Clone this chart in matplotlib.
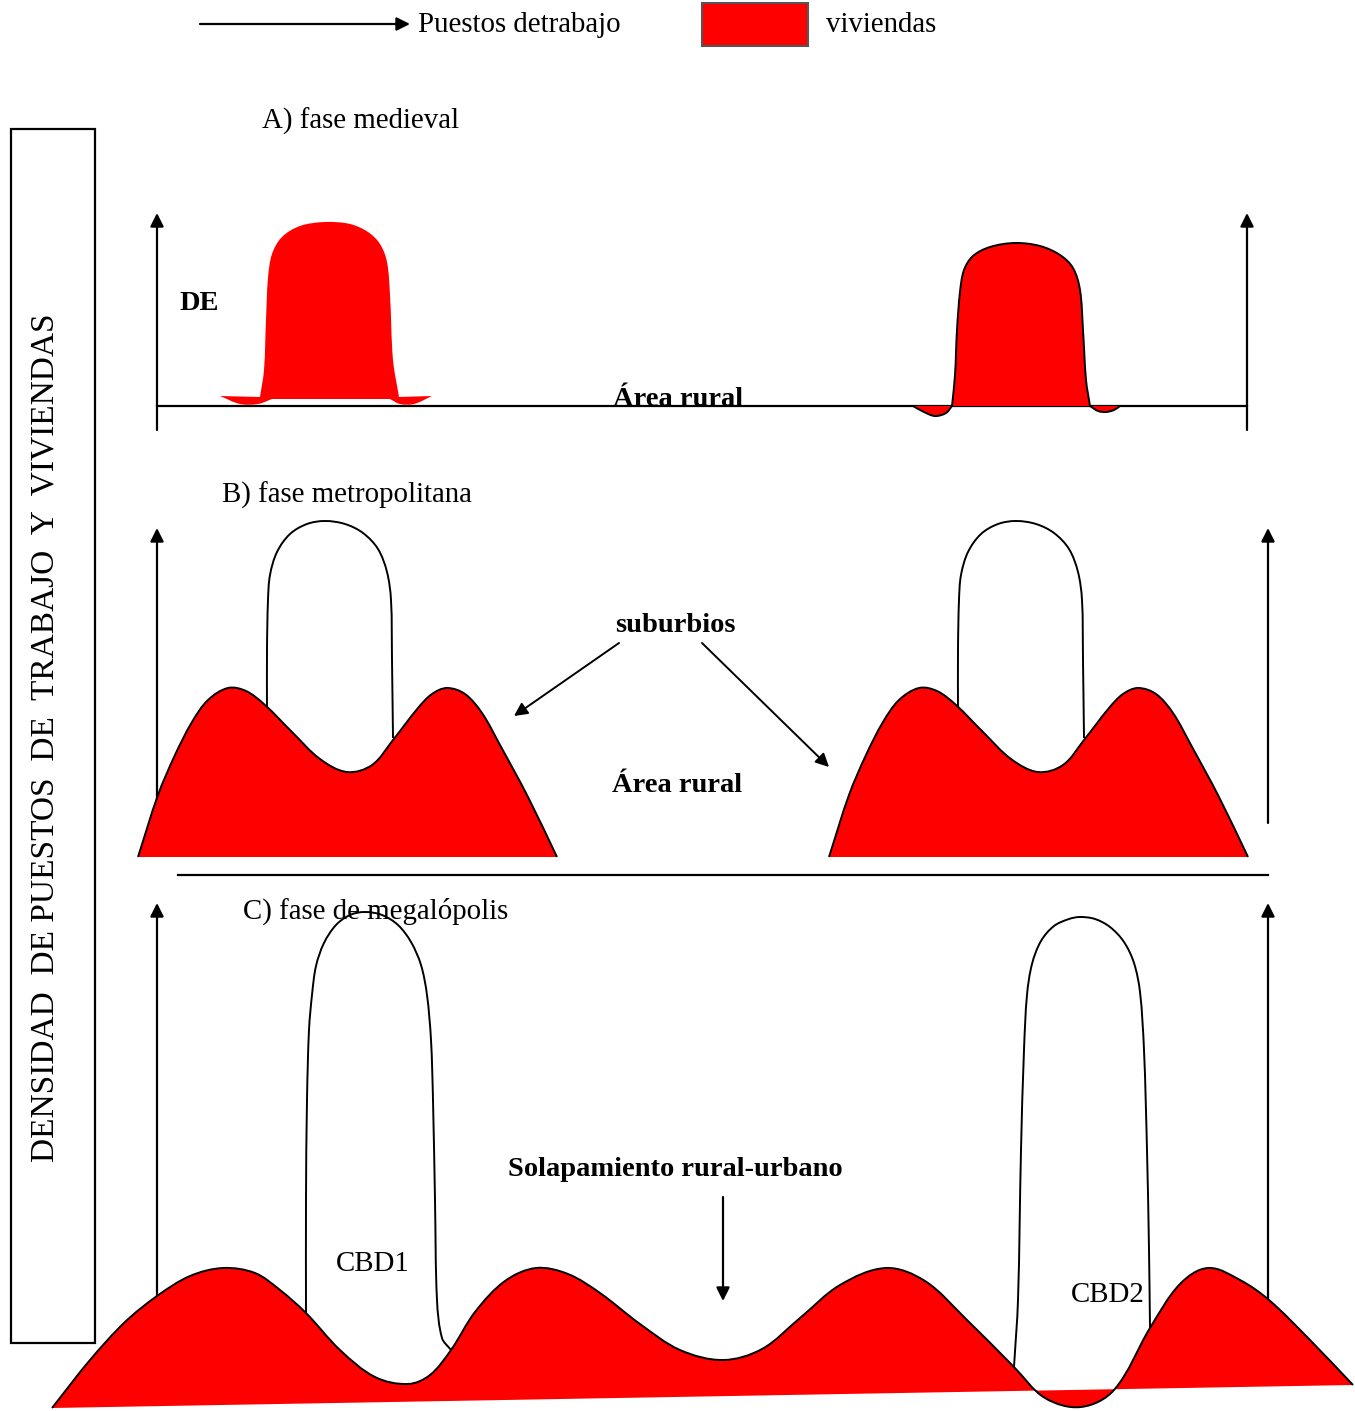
import numpy as np
import matplotlib
matplotlib.use('Agg')
import matplotlib.pyplot as plt
from matplotlib.path import Path
from matplotlib.patches import PathPatch, Rectangle

plt.rcParams['font.family'] = ['Liberation Serif', 'DejaVu Serif']

RED = '#ff0000'

# outline points of each shape (pixel coords, y down)
# A) medieval phase
a_left_body = [(260, 397), (264, 370), (266, 320), (268, 278), (272, 254), (282, 237), (300, 226),
               (325, 222), (350, 224), (368, 232), (380, 244), (387, 262), (390, 295),
               (393, 360), (399, 397)]
a_left_wing_r = [(432, 396), (414, 404), (400, 404), (390, 399)]
a_left_wing_l = [(272, 399), (258, 404), (240, 404), (220, 396)]

a_right_wing_l = [(913, 406), (924, 412), (935, 416), (946, 413), (952, 406)]
a_right_body = [(952, 406), (955, 375), (957, 330), (960, 292), (964, 270), (973, 256), (990, 247),
                (1015, 243), (1040, 246), (1060, 255), (1073, 268), (1080, 290), (1083, 330),
                (1086, 380), (1090, 406)]
a_right_wing_r = [(1090, 406), (1098, 411), (1106, 412), (1114, 410), (1120, 406)]

# B) metropolitan phase: same profile for both cities, shifted
b_profile = [(138, 857), (158, 795), (175, 755), (192, 722), (208, 700), (228, 688), (246, 691),
             (265, 705), (292, 732), (320, 759), (347, 772), (372, 765), (393, 740), (418, 708),
             (432, 694), (447, 688), (465, 694), (482, 713), (500, 745), (528, 797), (557, 857)]
b_cbd = [(267, 712), (267, 650), (268, 600), (270, 575), (277, 552), (290, 534), (307, 524),
         (325, 521), (345, 524), (363, 533), (378, 549), (387, 572), (391, 600), (392, 660),
         (393, 738)]
b_offsets = [0, 691]

# C) megalopolis phase
c_curve = [(52, 1408), (90, 1360), (125, 1322), (157, 1296), (190, 1276), (223, 1268), (255, 1273),
           (280, 1290), (306, 1313), (340, 1350), (375, 1377), (408, 1384), (430, 1375), (451, 1350),
           (475, 1312), (505, 1281), (536, 1268), (568, 1274), (600, 1293), (640, 1324), (680, 1350),
           (723, 1360), (762, 1349), (800, 1318), (840, 1285), (886, 1268), (925, 1281), (965, 1318),
           (1014, 1367), (1045, 1398), (1081, 1407), (1114, 1390), (1150, 1328), (1180, 1284),
           (1208, 1268), (1240, 1280), (1269, 1300), (1310, 1340), (1353, 1385)]
c_cbd1 = [(306, 1313), (306, 1200), (307, 1100), (309, 1030), (312, 995), (316, 966), (324, 943),
          (336, 925), (350, 915), (365, 912), (382, 915), (398, 925), (411, 942), (421, 965),
          (427, 995), (431, 1040), (433, 1100), (435, 1200), (437, 1300), (442, 1338), (451, 1350)]
c_cbd2 = [(1014, 1367), (1018, 1300), (1021, 1150), (1024, 1050), (1027, 995), (1032, 964),
          (1041, 941), (1054, 926), (1069, 919), (1080, 917), (1095, 919), (1110, 927),
          (1124, 942), (1134, 963), (1140, 992), (1144, 1050), (1147, 1150), (1149, 1250),
          (1150, 1328)]


def smooth_segment(pts):
    # cubic pieces through the points, tangents scaled by the chord length
    pts = np.asarray(pts, float)
    n = len(pts)
    verts, codes = [], []
    for i in range(n - 1):
        p0 = pts[max(i - 1, 0)]
        p1 = pts[i]
        p2 = pts[i + 1]
        p3 = pts[min(i + 2, n - 1)]
        d = np.hypot(*(p2 - p1))
        t1 = (p2 - p0) / np.hypot(*(p2 - p0))
        t2 = (p3 - p1) / np.hypot(*(p3 - p1))
        verts += [p1 + t1 * d / 3, p2 - t2 * d / 3, p2]
        codes += [Path.CURVE4] * 3
    return verts, codes


def make_path(segments, close=False, dx=0):
    segments = [[(x + dx, y) for x, y in seg] for seg in segments]
    verts = [np.array(segments[0][0], float)]
    codes = [Path.MOVETO]
    for seg in segments:
        if not np.allclose(seg[0], verts[-1]):
            verts.append(np.array(seg[0], float))
            codes.append(Path.LINETO)
        v, c = smooth_segment(seg)
        verts += v
        codes += c
    if close:
        verts.append(verts[0])
        codes.append(Path.CLOSEPOLY)
    return Path(verts, codes)


def arrow(ax, start, end, lw=1.6, z=1):
    ax.annotate('', xy=end, xytext=start,
                arrowprops=dict(arrowstyle='-|>', color='black', lw=lw,
                                mutation_scale=20, shrinkA=0, shrinkB=0), zorder=z)


fig = plt.figure(figsize=(13.55, 14.11), dpi=100)
ax = fig.add_axes([0, 0, 1, 1])
ax.set_xlim(0, 1355)
ax.set_ylim(1411, 0)
ax.axis('off')

FS = 20.8
FSB = 20.5

# legend
arrow(ax, (200, 24), (410, 24))
ax.text(418, 25, 'Puestos detrabajo', fontsize=FS, va='center', ha='left')
ax.add_patch(Rectangle((702, 3), 106, 43, facecolor=RED, edgecolor='#555555', lw=1.5))
ax.text(826, 25, 'viviendas', fontsize=FS, va='center', ha='left')

# side label box
ax.add_patch(Rectangle((11, 129), 84, 1214, facecolor='none', edgecolor='black', lw=1.6))
ax.text(45, 738, 'DENSIDAD  DE PUESTOS  DE  TRABAJO  Y  VIVIENDAS', fontsize=24,
        rotation=90, ha='center', va='center')

# ---- A) fase medieval
ax.text(262, 121, 'A) fase medieval', fontsize=FS, va='center', ha='left')
arrow(ax, (157, 430), (157, 213))
arrow(ax, (1247, 430), (1247, 213))
ax.plot([157, 1247], [406, 406], color='black', lw=1.6, zorder=1)

left_blob = make_path([[(220, 396), (260, 397)], a_left_body, [(399, 397), (432, 396)],
                       a_left_wing_r, [(390, 399), (272, 399)], a_left_wing_l], close=True)
ax.add_patch(PathPatch(left_blob, facecolor=RED, lw=0, zorder=3))

right_segs = [a_right_wing_l, a_right_body, a_right_wing_r]
ax.add_patch(PathPatch(make_path(right_segs, close=True), facecolor=RED, lw=0, zorder=3))
ax.add_patch(PathPatch(make_path(right_segs), facecolor='none', edgecolor='black', lw=1.4, zorder=4))

ax.text(180, 303, 'DE', fontsize=FSB, fontweight='bold', va='center', ha='left')
ax.text(678, 406, 'Área rural', fontsize=FSB, fontweight='bold', va='baseline', ha='center', zorder=5)

# ---- B) fase metropolitana
ax.text(222, 495, 'B) fase metropolitana', fontsize=FS, va='center', ha='left')
arrow(ax, (157, 856), (157, 528))
arrow(ax, (1268, 823), (1268, 528))
for dx in b_offsets:
    ax.add_patch(PathPatch(make_path([b_cbd], dx=dx), facecolor='none', edgecolor='black',
                           lw=1.4, zorder=2))
    ax.add_patch(PathPatch(make_path([b_profile], close=True, dx=dx), facecolor=RED, lw=0, zorder=3))
    ax.add_patch(PathPatch(make_path([b_profile], dx=dx), facecolor='none', edgecolor='black',
                           lw=1.4, zorder=4))

ax.text(675, 626, 'suburbios', fontsize=FSB, fontweight='bold', va='center', ha='center')
arrow(ax, (619, 643), (514, 716), lw=1.4)
arrow(ax, (702, 643), (829, 767), lw=1.4)
ax.text(677, 785, 'Área rural', fontsize=FSB, fontweight='bold', va='center', ha='center')

ax.plot([178, 1268], [875, 875], color='black', lw=1.6)

# ---- C) fase de megalópolis
arrow(ax, (157, 1380), (157, 903))
arrow(ax, (1268, 1380), (1268, 903))
for cbd in (c_cbd1, c_cbd2):
    ax.add_patch(PathPatch(make_path([cbd]), facecolor='none', edgecolor='black', lw=1.4, zorder=2))
ax.add_patch(PathPatch(make_path([c_curve], close=True), facecolor=RED, lw=0, zorder=3))
ax.add_patch(PathPatch(make_path([c_curve]), facecolor='none', edgecolor='black', lw=1.4, zorder=4))

ax.text(243, 911, 'C) fase de megalópolis', fontsize=FS, va='center', ha='left', zorder=5)
ax.text(373, 1264, 'CBD1', fontsize=FS, va='center', ha='center', zorder=5)
ax.text(1108, 1295, 'CBD2', fontsize=FS, va='center', ha='center', zorder=5)
ax.text(675, 1169, 'Solapamiento rural-urbano', fontsize=FSB, fontweight='bold',
        va='center', ha='center')
arrow(ax, (723, 1197), (723, 1301), lw=1.6)

fig.savefig('out.png', dpi=100)
